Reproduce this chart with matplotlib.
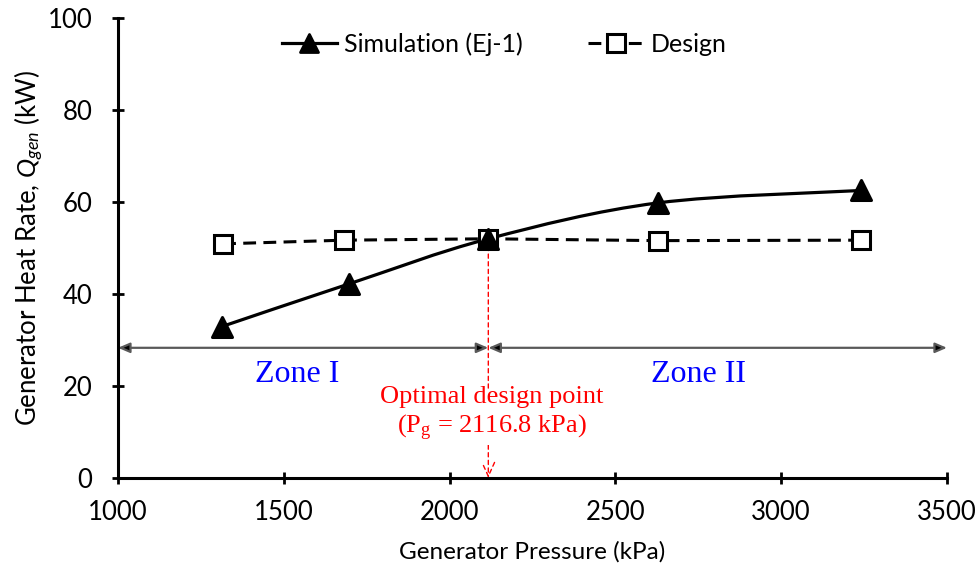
import numpy as np
import matplotlib
matplotlib.use("Agg")
import matplotlib.pyplot as plt
from matplotlib.path import Path
from matplotlib.patches import PathPatch
from matplotlib.markers import MarkerStyle

plt.rcParams["font.family"] = ["Lato", "DejaVu Sans"]
plt.rcParams["mathtext.fontset"] = "custom"
plt.rcParams["mathtext.it"] = "Lato:italic"
plt.rcParams["mathtext.rm"] = "Lato"

# data
sim_p = [1312.5, 1697, 2116.8, 2628, 3240]
sim_q = [32.9, 42.2, 52.0, 59.8, 62.5]
des_p = [1317, 1682, 2116.8, 2628, 3242]
des_q = [50.9, 51.7, 52.0, 51.6, 51.7]
opt_p = 2116.8
zone_y = 28.3
x_ticks = [1000, 1500, 2000, 2500, 3000, 3500]
y_ticks = [0, 20, 40, 60, 80, 100]


def smooth_path(xs, ys):
    # Excel-like smoothed line as cubic bezier segments
    pts = np.column_stack([xs, ys]).astype(float)
    n = len(pts)
    verts = [pts[0]]
    codes = [Path.MOVETO]
    for i in range(n - 1):
        p0 = pts[i - 1] if i > 0 else pts[i]
        p1, p2 = pts[i], pts[i + 1]
        p3 = pts[i + 2] if i + 2 < n else pts[i + 1]
        c1 = p1 + (p2 - p0) / 6
        c2 = p2 - (p3 - p1) / 6
        verts += [c1, c2, p2]
        codes += [Path.CURVE4] * 3
    return Path(verts, codes)


fig = plt.figure(figsize=(9.79, 5.71), dpi=100)
ax = fig.add_axes([0.1205, 0.1629, 0.8468, 0.8056])

tri = MarkerStyle("^", joinstyle="round")
ax.add_patch(PathPatch(smooth_path(sim_p, sim_q), fill=False, lw=2.3, color="black", zorder=3))
ax.plot(sim_p, sim_q, ls="none", marker=tri, ms=15, mew=2.2, color="black", zorder=4)
sim_handle, = ax.plot([], [], ls="-", lw=2.3, marker=tri, ms=13, mew=2, color="black",
                      label="Simulation (Ej-1)")

ax.plot(des_p, des_q, ls="--", dashes=(4.2, 2.4), lw=2.2, color="black", marker="s", ms=13,
        mfc="white", mec="black", mew=2.2, zorder=3, label="Design")
des_handle = ax.lines[-1]

# zone arrows
akw = dict(arrowstyle="<|-|>,head_length=0.7,head_width=0.3", fc="black", ec="#595959",
           lw=1.6, shrinkA=0, shrinkB=0)
ax.annotate("", xy=(1000, zone_y), xytext=(opt_p, zone_y), arrowprops=akw, zorder=2)
ax.annotate("", xy=(opt_p, zone_y), xytext=(3500, zone_y), arrowprops=akw, zorder=2)

# optimal design point
ax.annotate("", xy=(opt_p, 0), xytext=(opt_p, sim_q[2]),
            arrowprops=dict(arrowstyle="->,head_length=1.0,head_width=0.45", color="red",
                            lw=1, ls=(0, (3, 2.5)), shrinkA=0, shrinkB=0), zorder=2)
ax.text(opt_p + 10, 13.8, "Optimal design point\n(P$_\\mathregular{g}$ = 2116.8 kPa)",
        family="Liberation Serif", fontsize=19, color="red", ha="center", va="center",
        linespacing=1.25, bbox=dict(fc="white", ec="none", pad=1), zorder=5)

ax.text(1540, 22.6, "Zone I", family="Liberation Serif", fontsize=23, color="blue",
        ha="center", va="center")
ax.text(2752, 22.6, "Zone II", family="Liberation Serif", fontsize=23, color="blue",
        ha="center", va="center")

ax.set_xlim(1000, 3500)
ax.set_ylim(0, 100)
ax.set_xticks(x_ticks)
ax.set_yticks(y_ticks)
ax.tick_params(direction="inout", length=9, width=2, labelsize=18.5)
ax.tick_params(axis="x", pad=11)
ax.tick_params(axis="y", pad=14)
for s in ["top", "right"]:
    ax.spines[s].set_visible(False)
for s in ["left", "bottom"]:
    ax.spines[s].set_linewidth(2.2)

ax.set_xlabel("Generator Pressure (kPa)", fontsize=17.5, labelpad=12)
ax.set_ylabel("Generator Heat Rate, $\\mathit{Q_{gen}}$ (kW)", fontsize=18.5, labelpad=1)

ax.legend(handles=[sim_handle, des_handle], loc="upper center", bbox_to_anchor=(0.466, 1.018),
          ncol=2, frameon=False, fontsize=18, handlelength=2.2, columnspacing=2.6,
          handletextpad=0.3)

fig.savefig("out.png", dpi=100)
